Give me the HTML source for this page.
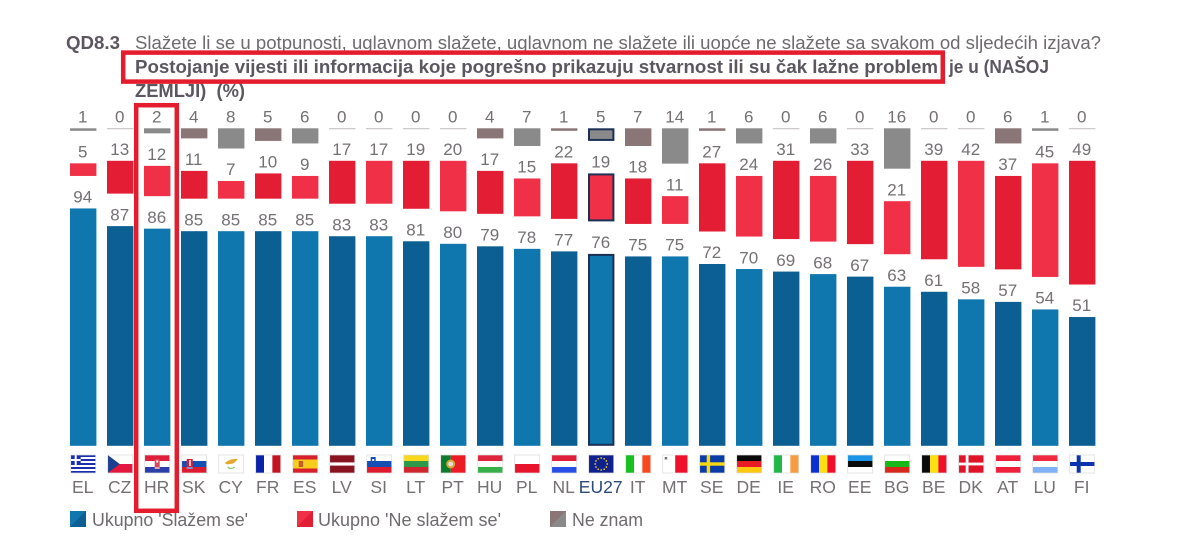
<!DOCTYPE html>
<html lang="hr">
<head>
<meta charset="utf-8">
<title>QD8.3</title>
<style>
html,body{margin:0;padding:0;background:#fff;width:1188px;height:556px;overflow:hidden}
svg{display:block}
text{font-family:"Liberation Sans",sans-serif}
</style>
</head>
<body>
<svg id="chart" xmlns="http://www.w3.org/2000/svg" width="1188" height="556" viewBox="0 0 1188 556">
<defs>
<linearGradient id="sw-blue" x1="0" y1="0" x2="1" y2="1"><stop offset="0.5" stop-color="#0f76ae"/><stop offset="0.5" stop-color="#0c5f92"/></linearGradient>
<linearGradient id="sw-red" x1="0" y1="0" x2="1" y2="1"><stop offset="0.5" stop-color="#f03046"/><stop offset="0.5" stop-color="#e31d33"/></linearGradient>
<linearGradient id="sw-gray" x1="0" y1="0" x2="1" y2="1"><stop offset="0.5" stop-color="#8a7577"/><stop offset="0.5" stop-color="#8a8a8a"/></linearGradient>
</defs>
<g>
<text x="66" y="49" font-size="18" font-weight="700" fill="#5c5660" textLength="54" lengthAdjust="spacingAndGlyphs">QD8.3</text>
<text x="135" y="49" font-size="18.5" fill="#6e6a6e" textLength="966" lengthAdjust="spacingAndGlyphs">Slažete li se u potpunosti, uglavnom slažete, uglavnom ne slažete ili uopće ne slažete sa svakom od sljedećih izjava?</text>
<text x="135" y="73" font-size="18" font-weight="700" fill="#5c5660" textLength="803" lengthAdjust="spacingAndGlyphs">Postojanje vijesti ili informacija koje pogrešno prikazuju stvarnost ili su čak lažne problem</text>
<text x="949" y="73" font-size="18" font-weight="700" fill="#5c5660" textLength="100" lengthAdjust="spacingAndGlyphs">je u (NAŠOJ</text>
<text x="135" y="97" font-size="18" font-weight="700" fill="#5c5660" xml:space="preserve" textLength="110" lengthAdjust="spacingAndGlyphs">ZEMLJI)  (%)</text>
</g>
<g id="bars"></g>
<g id="flags"></g>
<g id="xlabels"></g>
<g>
<g>
<rect x="70" y="511" width="16" height="16" fill="url(#sw-blue)"/>
<text x="92" y="526" font-size="18" fill="#6e6a6e" textLength="156" lengthAdjust="spacingAndGlyphs">Ukupno 'Slažem se'</text>
</g>
<g>
<rect x="297" y="511" width="16" height="16" fill="url(#sw-red)"/>
<text x="318" y="526" font-size="18" fill="#6e6a6e" textLength="183" lengthAdjust="spacingAndGlyphs">Ukupno 'Ne slažem se'</text>
</g>
<g>
<rect x="550" y="511" width="16" height="16" fill="url(#sw-gray)"/>
<text x="572" y="526" font-size="18" fill="#6e6a6e" textLength="71" lengthAdjust="spacingAndGlyphs">Ne znam</text>
</g>
</g>
<rect x="123.2" y="52.6" width="819.6" height="29" fill="none" stroke="#e31d2d" stroke-width="4.5"/>
<rect x="136.2" y="105.2" width="40.6" height="405.6" fill="none" stroke="#e31d2d" stroke-width="4.5"/>
</svg>
<script>
var countries = ['EL','CZ','HR','SK','CY','FR','ES','LV','SI','LT','PT','HU','PL','NL','EU27','IT','MT','SE','DE','IE','RO','EE','BG','BE','DK','AT','LU','FI'];
var agree = [94,87,86,85,85,85,85,83,83,81,80,79,78,77,76,75,75,72,70,69,68,67,63,61,58,57,54,51];
var disagree = [5,13,12,11,7,10,9,17,17,19,20,17,15,22,19,18,11,27,24,31,26,33,21,39,42,37,45,49];
var dontKnow = [1,0,2,4,8,5,6,0,0,0,0,4,7,1,5,7,14,1,6,0,6,0,16,0,0,6,1,0];

var NS = 'http://www.w3.org/2000/svg';
var UNIT = 2.525;
var BAR_W = 26.4;
function xPos(i){ return 70 + 37 * i; }
function xMid(i){ return xPos(i) + BAR_W / 2; }
function len(v){ return v * UNIT; }
function agreeTop(v){ return 445.8 - len(v); }
function dontKnowBase(){ return 128.3; }
function disagreeTop(gray){ return 160.8 + len(gray); }

function mk(tag, attrs, parent){
  var el = document.createElementNS(NS, tag);
  for (var k in attrs) el.setAttribute(k, attrs[k]);
  parent.appendChild(el);
  return el;
}
var barsG = document.getElementById('bars');
var flagsG = document.getElementById('flags');
var labelsG = document.getElementById('xlabels');
var NAVY = '#1c2f55';

function valueLabel(i, y, v, kind){
  var t = mk('text', {x: xMid(i) - 0.5, y: y, 'font-size': 17, 'text-anchor': 'middle', fill: '#747074'}, barsG);
  t.textContent = v;
  
  
}
function bar(i, y, h, fill, kind, isEU){
  var a = {x: xPos(i), y: y, width: BAR_W, height: h, fill: fill};
  if (isEU) { a.x += 1; a.y += 1; a.width -= 2; a.height = Math.max(h - 2, 1); a.stroke = NAVY; a['stroke-width'] = 2; }
  var r = mk('rect', a, barsG);
  
  
}

countries.forEach(function(code, i){
  var light = i % 2 === 0;
  var isEU = code === 'EU27';
  var blue = light ? '#0f76ae' : '#0c5f92';
  var red = light ? '#f03046' : '#e31d33';
  var gray = light ? '#8a8a8a' : '#8a7577';

  var gh = len(dontKnow[i]);
  if (dontKnow[i] === 0) {
    bar(i, dontKnowBase(), 0.9, '#b9b3b4', 'dont-know', false);
  } else {
    bar(i, dontKnowBase(), gh, gray, 'dont-know', isEU);
  }
  valueLabel(i, 122.7, dontKnow[i], 'dont-know');

  var rt = disagreeTop(dontKnow[i]);
  bar(i, rt, len(disagree[i]), red, 'disagree', isEU);
  valueLabel(i, rt - 5.8, disagree[i], 'disagree');

  var bt = agreeTop(agree[i]);
  bar(i, bt, len(agree[i]), blue, 'agree', isEU);
  valueLabel(i, bt - 5.8, agree[i], 'agree');

  var lab = mk('text', {x: xMid(i) - 0.5, y: 493, 'font-size': 17.5, 'text-anchor': 'middle', fill: isEU ? '#2c4a78' : '#747074'}, labelsG);
  lab.textContent = code;
  
  

  var fg = mk('g', {transform: 'translate(' + (xPos(i) + 0.7) + ' 455)'}, flagsG);
  
  
  drawFlag(fg, code);
});

function R(g, x, y, w, h, f){
  return mk('rect', {x: x, y: y, width: w, height: h, fill: f}, g);
}
function H(g, cols){ var h = 18 / cols.length; cols.forEach(function(c, k){ R(g, 0, k * h, 25, h, c); }); }
function V(g, cols){ var w = 25 / cols.length; cols.forEach(function(c, k){ R(g, k * w, 0, w, 18, c); }); }
function X(g, bg, c, t){ R(g, 0, 0, 25, 18, bg); R(g, 7, 0, t, 18, c); R(g, 0, 9 - t / 2, 25, t, c); }

function drawFlag(g, code){
  switch (code) {
    case 'EL':
      for (var k = 0; k < 9; k++) R(g, 0, k * 2, 25, 2, k % 2 ? '#fff' : '#1a2fb0');
      R(g, 0, 0, 10, 10, '#1a2fb0'); R(g, 4, 0, 2, 10, '#fff'); R(g, 0, 4, 10, 2, '#fff');
      break;
    case 'CZ':
      H(g, ['#fff', '#e4183c']);
      mk('polygon', {points: '0,0 12,9 0,18', fill: '#1c3f8f'}, g);
      break;
    case 'HR':
      H(g, ['#e0203a', '#fff', '#2a3fa8']);
      R(g, 10, 4, 5, 8, '#d8485a'); R(g, 11.5, 5.5, 2, 2, '#fff'); R(g, 10, 12, 5, 2, '#e6a0a8');
      break;
    case 'SK':
      H(g, ['#fff', '#1450b4', '#e01a2e']);
      R(g, 5, 4, 6, 8, '#e01a2e'); R(g, 7.5, 5, 1.5, 6, '#fff'); R(g, 5, 12, 6, 2, '#8090d0');
      break;
    case 'CY':
      R(g, 0, 0, 25, 18, '#fdfdfd');
      mk('path', {d: 'M6 8 Q12 3 19 4 Q16 9 11 9 Q8 10 6 8Z', fill: '#e8a830'}, g);
      mk('path', {d: 'M9 12 Q12 15 16 12', fill: 'none', stroke: '#8cc878', 'stroke-width': 1.3}, g);
      break;
    case 'FR': V(g, ['#0a22a8', '#fff', '#c41420']); break;
    case 'ES':
      H(g, ['#d8202c', '#f8cc1c', '#f8cc1c', '#d8202c']);
      R(g, 6, 6, 4.5, 6, '#c06028');
      break;
    case 'LV':
      R(g, 0, 0, 25, 18, '#8a1322'); R(g, 0, 7.4, 25, 3.2, '#fff');
      break;
    case 'SI':
      H(g, ['#fff', '#1450b4', '#e01a2e']);
      R(g, 4, 2, 5, 6, '#1450b4'); R(g, 5.5, 4, 2, 2, '#fff');
      break;
    case 'LT': H(g, ['#f8d81c', '#2c9a48', '#d0262e']); break;
    case 'PT':
      R(g, 0, 0, 10, 18, '#0c7c2c'); R(g, 10, 0, 15, 18, '#ec1c24');
      mk('circle', {cx: 10, cy: 9, r: 4.5, fill: '#d4a838'}, g);
      mk('circle', {cx: 10, cy: 9, r: 2.4, fill: '#e8e0e0'}, g);
      break;
    case 'HU': H(g, ['#e0263c', '#fff', '#38b04a']); break;
    case 'PL': H(g, ['#fff', '#e8142c']); break;
    case 'NL': H(g, ['#e0203a', '#fff', '#2850e8']); break;
    case 'EU27':
      R(g, 0, 0, 25, 18, '#10208c');
      for (var s = 0; s < 12; s++) {
        var ang = s * Math.PI / 6;
        mk('circle', {cx: 12.5 + 6 * Math.cos(ang), cy: 9 + 6 * Math.sin(ang), r: 0.85, fill: '#f0d820'}, g);
      }
      break;
    case 'IT': V(g, ['#18c020', '#fff', '#f8481c']); break;
    case 'MT':
      R(g, 0, 0, 12.5, 18, '#fff'); R(g, 12.5, 0, 12.5, 18, '#f0102c');
      R(g, 2, 2, 2.5, 2.5, '#777');
      break;
    case 'SE': X(g, '#0a3ca8', '#f8d810', 3.4); break;
    case 'DE': H(g, ['#0a0a0a', '#e81c24', '#fcc810']); break;
    case 'IE': V(g, ['#22b848', '#fff', '#f89c40']); break;
    case 'RO': V(g, ['#0a30d0', '#fce010', '#f0102c']); break;
    case 'EE': H(g, ['#1c94e8', '#0a0a0a', '#fff']); break;
    case 'BG': H(g, ['#fff', '#18b818', '#d8281c']); break;
    case 'BE': V(g, ['#0a0a0a', '#fce010', '#f0102c']); break;
    case 'DK': X(g, '#e01428', '#fff', 2.8); break;
    case 'AT': H(g, ['#f0203c', '#fff', '#f0203c']); break;
    case 'LU': H(g, ['#f02840', '#fff', '#80b0f8']); break;
    case 'FI': X(g, '#fff', '#0c34b0', 4); break;
  }
  mk('rect', {x: 0, y: 0, width: 25, height: 18, fill: 'none', stroke: '#dcdcdc', 'stroke-width': 0.7}, g);
}
</script>
</body>
</html>
